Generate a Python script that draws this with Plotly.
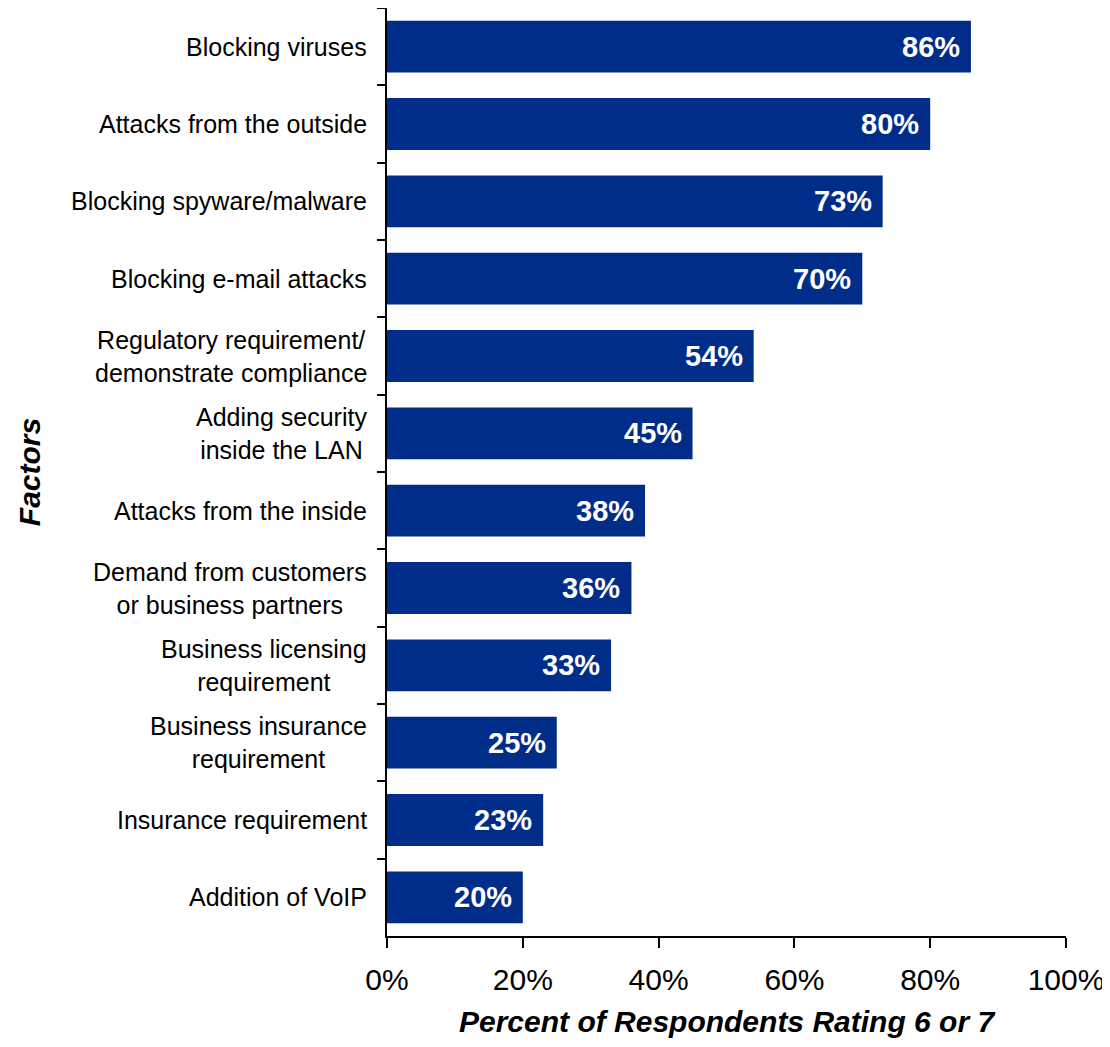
import plotly.graph_objects as go

categories = [
    "Blocking viruses",
    "Attacks from the outside",
    "Blocking spyware/malware",
    "Blocking e-mail attacks",
    "Regulatory requirement/<br>demonstrate compliance",
    "Adding security<br>inside the LAN",
    "Attacks from the inside",
    "Demand from customers<br>or business partners",
    "Business licensing<br>requirement",
    "Business insurance<br>requirement",
    "Insurance requirement",
    "Addition of VoIP",
]
values = [0.86, 0.80, 0.73, 0.70, 0.54, 0.45, 0.38, 0.36, 0.33, 0.25, 0.23, 0.20]
x_ticks = [0, 0.2, 0.4, 0.6, 0.8, 1.0]
x_tick_labels = ["0%", "20%", "40%", "60%", "80%", "100%"]

FONT = "Arial, Liberation Sans, sans-serif"
BAR_COLOR = "#002D89"

fig = go.Figure(
    go.Bar(
        x=values,
        y=categories,
        orientation="h",
        marker=dict(color=BAR_COLOR, line=dict(width=0)),
        width=0.67,
        hoverinfo="skip",
    )
)

annotations = []
# bar value labels
for c, v in zip(categories, values):
    annotations.append(dict(
        x=v, y=c, xref="x", yref="y", text=f"<b>{round(v*100)}%</b>",
        xanchor="right", yanchor="middle", xshift=-9, showarrow=False,
        font=dict(family=FONT, size=29, color="white"),
    ))
# category labels (centered lines, right-aligned block)
for c in categories:
    annotations.append(dict(
        x=0, y=c, xref="paper", yref="y", text=c, align="center",
        xanchor="right", yanchor="middle", xshift=-18, showarrow=False,
        font=dict(family=FONT, size=25, color="black"),
    ))
# axis titles
annotations.append(dict(
    x=0.5, y=-0.092, xref="paper", yref="paper",
    text="<b><i>Percent of Respondents Rating 6 or 7</i></b>",
    xanchor="center", yanchor="middle", showarrow=False,
    font=dict(family=FONT, size=30, color="black"),
))
annotations.append(dict(
    x=-0.527, y=0.5, xref="paper", yref="paper",
    text="<b><i>Factors</i></b>", textangle=-90,
    xanchor="center", yanchor="middle", showarrow=False,
    font=dict(family=FONT, size=30, color="black"),
))

# page body has an 8px margin, so the figure is sized to fit the 1110x1047 window
fig.update_layout(
    width=1102, height=1039,
    margin=dict(l=379, r=44, t=0, b=111, pad=0),
    paper_bgcolor="white", plot_bgcolor="white",
    showlegend=False,
    font=dict(family=FONT, color="black"),
    annotations=annotations,
    xaxis=dict(
        range=[0, 1], tickvals=x_ticks, ticktext=x_tick_labels,
        showgrid=False, zeroline=False,
        showline=True, linecolor="black", linewidth=2,
        ticks="outside", ticklen=10, tickwidth=2, tickcolor="black",
        ticklabelstandoff=6,
        tickfont=dict(family=FONT, size=30, color="black"),
        fixedrange=True,
    ),
    yaxis=dict(
        autorange="reversed", categoryorder="array", categoryarray=categories,
        showticklabels=False, tickson="boundaries",
        showgrid=False, zeroline=False,
        showline=True, linecolor="black", linewidth=2,
        ticks="outside", ticklen=8, tickwidth=2, tickcolor="black",
        fixedrange=True,
    ),
)

fig.write_html("out.html")
